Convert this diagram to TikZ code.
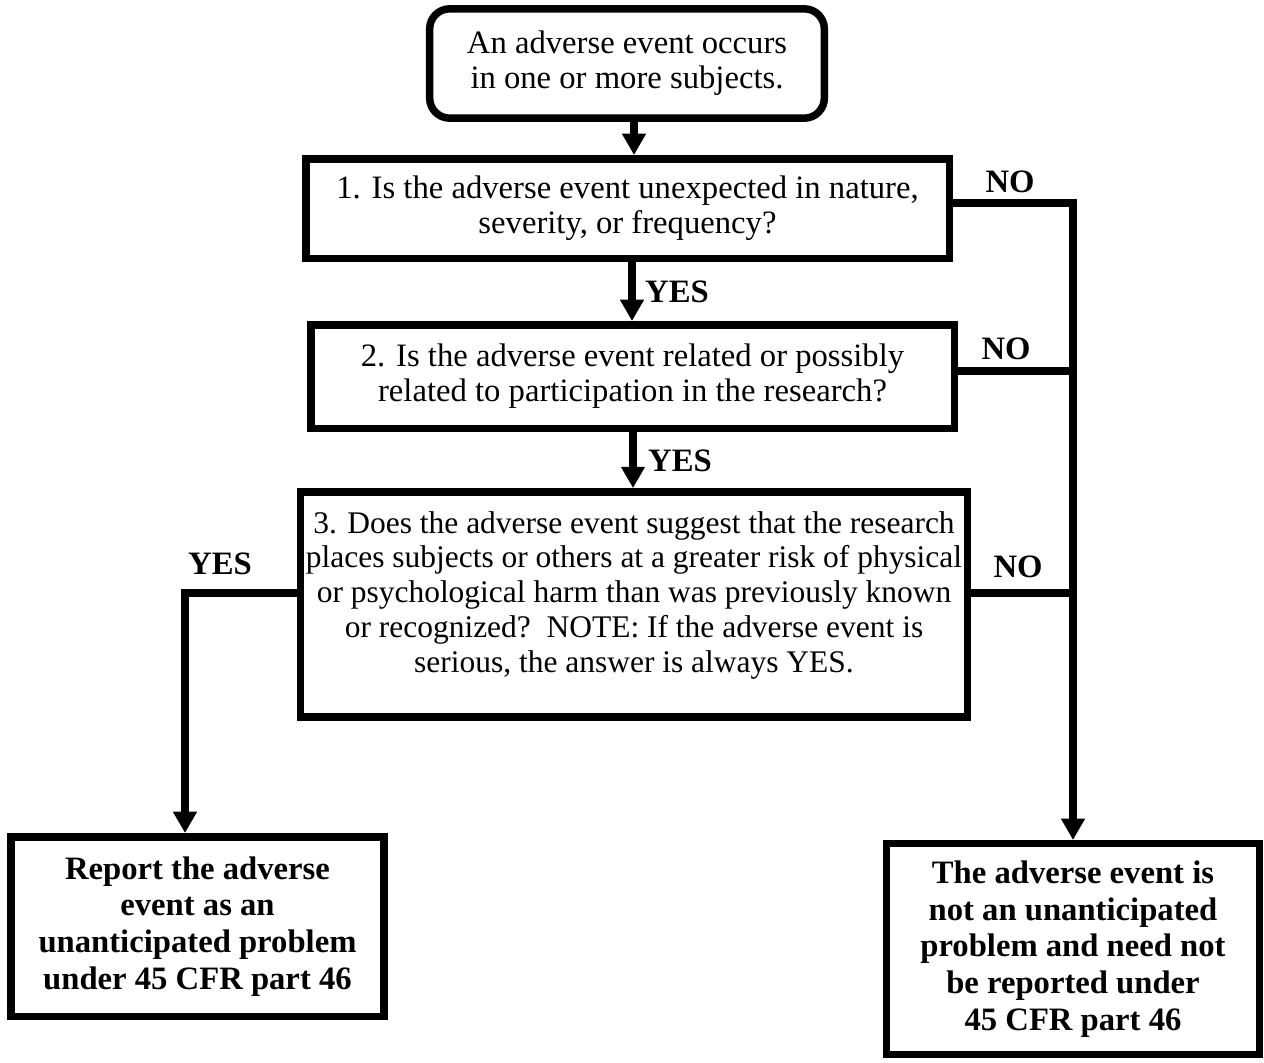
\documentclass[tikz,border=0pt]{standalone}
\usepackage{fontspec}
\setmainfont{Liberation Serif}
\usetikzlibrary{arrows.meta, positioning}

\begin{document}
\begin{tikzpicture}[
        x=0.75pt, y=-0.75pt,
        box/.style={rectangle, draw=black, line width=5.6pt, fill=white,
                    align=center, inner sep=0pt,
                    font=\fontsize{24.5}{26.3}\selectfont},
        startbox/.style={box, rounded corners=15pt},
        endbox/.style={box, font=\fontsize{24.5}{27.6}\selectfont\bfseries},
        lbl/.style={font=\fontsize{24.5}{26}\selectfont\bfseries, inner sep=0pt},
        arr/.style={-{Triangle[width=17pt, length=16pt]}, line width=5.6pt},
        ln/.style={line width=5.6pt},
    ]
    \useasboundingbox (0,0) rectangle (1264,1063);
    \node[startbox, minimum width=296pt, minimum height=82pt] (start) at (627,63.5)
        {An adverse event occurs \\ in one or more subjects.};
    \node[box, minimum width=482.6pt, minimum height=74.6pt] (q1) at (627.5,208.5)
        {1. Is the adverse event unexpected in nature, \\ severity, or frequency?};
    \node[box, minimum width=482.6pt, minimum height=77.6pt] (q2) at (632.5,376.5)
        {2. Is the adverse event related or possibly \\ related to participation in the research?};
    \node[box, minimum width=499.9pt, minimum height=169pt,
          font=\fontsize{23.6}{26.1}\selectfont] (q3) at (634,604.5)
        {3. Does the adverse event suggest that the research \\
         places subjects or others at a greater risk of physical \\
         or psychological harm than was previously known \\
         or recognized?\ \ NOTE: If the adverse event is \\
         serious, the answer is always YES.\\[-7pt]\mbox{}};
    \node[endbox, minimum width=280pt, minimum height=134.6pt] (report) at (197.5,926.5)
        {Report the adverse \\ event as an \\ unanticipated problem \\ under 45 CFR part 46};
    \node[endbox, minimum width=279.4pt, minimum height=157.9pt] (notreport) at (1073,949)
        {The adverse event is \\ not an unanticipated \\ problem and need not \\ be reported under \\ 45 CFR part 46};
    % answers
    \node[lbl] (yes1) at (677,292) {YES};
    \node[lbl] (yes2) at (680,461) {YES};
    \node[lbl] (yes3) at (220,564) {YES};
    \node[lbl] (no1) at (1010,182) {NO};
    \node[lbl] (no2) at (1006,349) {NO};
    \node[lbl] (no3) at (1018,567) {NO};
    % connectors
    \draw[arr] (start.south -| 634,0) -- (q1.north -| 634,0);
    \draw[arr] (q1.south -| 632,0) -- (q2.north -| 632,0);
    \draw[arr] (q2.south -| 633,0) -- (q3.north -| 633,0);
    \draw[arr] ([yshift=4pt]q1.east) -| (notreport.north);
    \draw[ln] ([yshift=4pt]q2.east) -- ([yshift=4pt]q2.east -| notreport.north);
    \draw[ln] ([yshift=8.5pt]q3.east) -- ([yshift=8.5pt]q3.east -| notreport.north);
    \draw[arr] ([yshift=8.5pt]q3.west) -| (report.north -| 185,0);
\end{tikzpicture}
\end{document}
